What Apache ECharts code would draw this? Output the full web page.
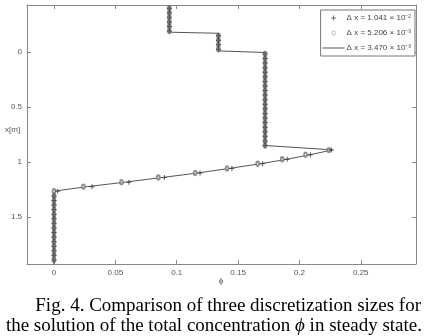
<!DOCTYPE html>
<html><head><meta charset="utf-8">
<script src="https://cdn.jsdelivr.net/npm/echarts@6/dist/echarts.min.js"></script>
<style>html,body{margin:0;padding:0;background:#fff}#c{width:424px;height:336px}</style>
</head><body><div id="c"></div>
<script>
const depthGrid = [-0.398,-0.356,-0.315,-0.273,-0.232,-0.190,-0.148,-0.107,-0.065,-0.024,0.018,0.060,0.101,0.143,0.184,0.226,0.268,0.309,0.351,0.392,0.434,0.476,0.517,0.559,0.600,0.642,0.684,0.725,0.767,0.808,0.850,0.892,0.933,0.975,1.016,1.058,1.100,1.141,1.183,1.224,1.266,1.308,1.349,1.391,1.432,1.474,1.516,1.557,1.599,1.640,1.682,1.724,1.765,1.807,1.848,1.890];
const plusPhi = [0.094,0.094,0.094,0.094,0.094,0.094,0.134,0.134,0.134,0.134,
  0.172,0.172,0.172,0.172,0.172,0.172,0.172,0.172,0.172,0.172,0.172,0.172,0.172,0.172,0.172,0.172,0.172,0.172,0.172,0.172,0.172,
  0.226,0.209,0.190,0.170,0.145,0.119,0.090,0.061,0.031,0.003,
  0,0,0,0,0,0,0,0,0,0,0,0,0,0,0];
const circlePhi = [0.094,0.094,0.094,0.094,0.094,0.094,0.134,0.134,0.134,0.134,
  0.172,0.172,0.172,0.172,0.172,0.172,0.172,0.172,0.172,0.172,0.172,0.172,0.172,0.172,0.172,0.172,0.172,0.172,0.172,0.172,0.172,
  0.224,0.205,0.186,0.166,0.141,0.115,0.085,0.055,0.024,0,
  0,0,0,0,0,0,0,0,0,0,0,0,0,0,0];
const linePhi = [0.094,0.094,0.134,0.134,0.172,0.172,0.200,0.227,0.209,0.190,0.168,0.143,0.117,0.088,0.058,0.027,0.002,0,0];
const lineDepth = [-0.427,-0.180,-0.170,-0.010,0.005,0.850,0.870,0.890,0.933,0.975,1.016,1.058,1.100,1.141,1.183,1.224,1.262,1.280,1.927];
const xTicks = [0,0.05,0.1,0.15,0.2,0.25];
const yTicks = [0,0.5,1,1.5];
const seriesNames = ['Δ x = 1.041 × 10⁻²','Δ x = 5.206 × 10⁻³','Δ x = 3.470 × 10⁻³'];
const xName = 'ϕ';
const yName = 'x[m]';
const captionLine1 = 'Fig. 4. Comparison of three discretization sizes for';
const captionLine2a = 'the solution of the total concentration ';
const captionPhi = 'ϕ';
const captionLine2b = ' in steady state.';

const plusPath = 'path://M2,0h1v2h2v1h-2v2h-1v-2h-2v-1h2z';
const ringPath = 'path://M4,0A4,5 0 1,1 4,10A4,5 0 1,1 4,0ZM4,1.3A2.7,3.7 0 1,0 4,8.7A2.7,3.7 0 1,0 4,1.3Z';
const axisColor = '#888';
const labelColor = '#555';
const sans = 'Liberation Sans, Arial, sans-serif';
const serif = '"Liberation Serif", "Times New Roman", serif';

function xAx(pos, showLabel){
  return {type:'value', min:-0.022, max:0.295, position:pos,
    axisLine:{show:true, onZero:false, lineStyle:{color:axisColor, width:1}},
    axisTick:{show:true, inside:true, length:4, customValues:xTicks, lineStyle:{color:axisColor}},
    axisLabel:{show:showLabel, customValues:xTicks, color:labelColor, fontSize:8, fontFamily:sans, margin:5},
    splitLine:{show:false}};
}
function yAx(pos, showLabel){
  return {type:'value', min:-0.427, max:1.927, inverse:true, position:pos,
    axisLine:{show:true, onZero:false, lineStyle:{color:axisColor, width:1}},
    axisTick:{show:true, inside:true, length:4, customValues:yTicks, lineStyle:{color:axisColor}},
    axisLabel:{show:showLabel, customValues:yTicks, color:labelColor, fontSize:8, fontFamily:sans, margin:5},
    splitLine:{show:false}};
}

const chart = echarts.init(document.getElementById('c'), null, {renderer:'canvas'});
chart.setOption({
  animation:false,
  backgroundColor:'#fff',
  grid:{left:27, right:8, top:5, bottom:72, containLabel:false},
  xAxis:[xAx('bottom', true), xAx('top', false)],
  yAxis:[yAx('left', true), yAx('right', false)],
  legend:{
    orient:'vertical', right:9, top:10,
    backgroundColor:'#fff', borderColor:'#777', borderWidth:1, borderRadius:0,
    padding:[4,4,4,2], itemGap:7, itemWidth:22, itemHeight:5,
    textStyle:{fontSize:8, color:'#444', fontFamily:sans, padding:[0,0,0,-3]},
    data:[
      {name:seriesNames[0], icon:plusPath, itemStyle:{color:'#444', borderWidth:0}},
      {name:seriesNames[1], icon:ringPath, itemStyle:{color:'#888', borderWidth:0}},
      {name:seriesNames[2], icon:'path://M0,4h24v1h-24z', itemStyle:{color:'#444', borderWidth:0}}
    ]
  },
  series:[
    {name:seriesNames[2], type:'line', xAxisIndex:0, yAxisIndex:0,
      data:linePhi.map((p,i)=>[p, lineDepth[i]]),
      showSymbol:false, lineStyle:{color:'#555', width:1}, itemStyle:{color:'#555'}, z:1},
    {name:seriesNames[1], type:'scatter', xAxisIndex:0, yAxisIndex:0,
      data:circlePhi.map((p,i)=>[p, depthGrid[i]]),
      symbol:'emptyCircle', symbolSize:[3,4],
      itemStyle:{color:'#777', borderWidth:0.7}, z:2},
    {name:seriesNames[0], type:'scatter', xAxisIndex:0, yAxisIndex:0,
      data:plusPhi.map((p,i)=>[p, depthGrid[i]]),
      symbol:plusPath, symbolSize:5,
      itemStyle:{color:'#333'}, z:3}
  ],
  graphic:[
    {type:'text', style:{x:5, y:130, text:yName, font:'8px '+sans, fill:labelColor, verticalAlign:'middle'}},
    {type:'text', style:{x:221, y:281, text:xName, font:'8px '+sans, fill:labelColor, align:'center', verticalAlign:'middle'}},
    {type:'text', style:{x:421, y:306, text:captionLine1, font:'19px '+serif, fill:'#000', align:'right', verticalAlign:'middle'}},
    {type:'text', style:{x:422, y:326, text:'{n|'+captionLine2a+'}{i|'+captionPhi+'}{n|'+captionLine2b+'}',
      align:'right', verticalAlign:'middle',
      rich:{n:{font:'19px '+serif, fill:'#000'}, i:{font:'italic 19px '+serif, fill:'#000'}}}}
  ]
});
</script></body></html>
